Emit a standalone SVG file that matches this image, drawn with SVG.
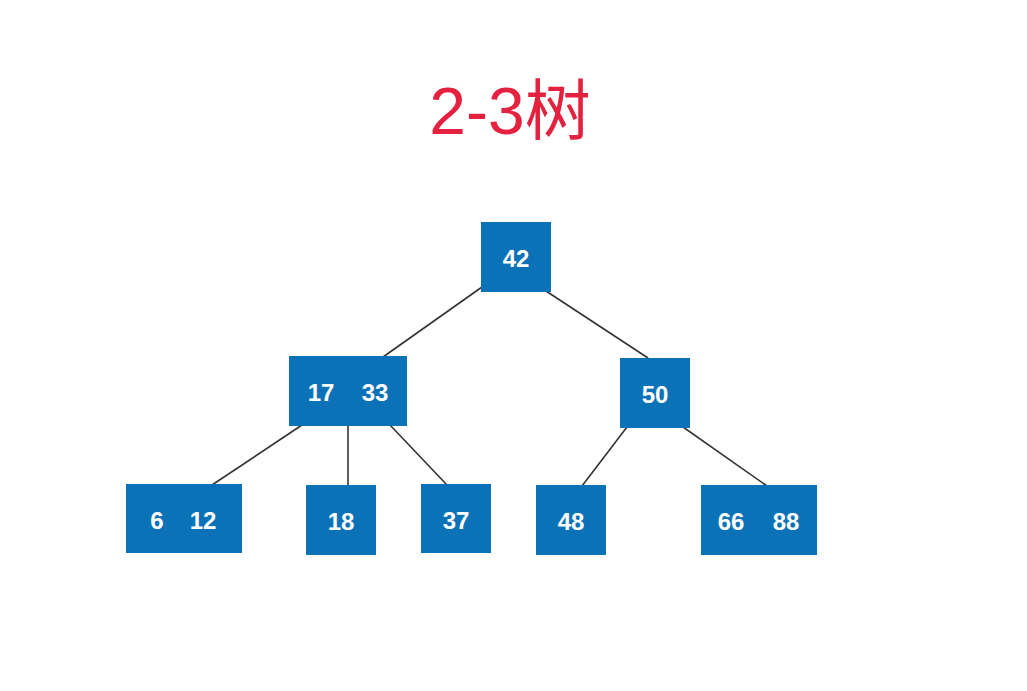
<svg xmlns="http://www.w3.org/2000/svg" width="1027" height="691" viewBox="0 0 1027 691">
  <style>
    .box { fill: #0b72b7; }
    .key { fill: #ffffff; font-family: "Liberation Sans", Arial, sans-serif; font-weight: bold; font-size: 24px; text-anchor: middle; }
    .edge { stroke: #333333; stroke-width: 1.6; fill: none; }
    .title { fill: #e4223f; font-family: "Liberation Sans", "Noto Sans CJK SC", sans-serif; font-size: 66px; text-anchor: middle; }
  </style>
  <rect width="1027" height="691" fill="#ffffff"/>

  <text class="title" x="510" y="134">2-3树</text>

  <!-- tree edges -->
  <g id="edges">
    <line class="edge" x1="482" y1="287" x2="383" y2="357"/>
    <line class="edge" x1="546" y1="291" x2="648" y2="358"/>
    <line class="edge" x1="302" y1="425" x2="212" y2="485"/>
    <line class="edge" x1="348" y1="425" x2="348" y2="486"/>
    <line class="edge" x1="390" y1="425" x2="447" y2="485"/>
    <line class="edge" x1="627" y1="427" x2="582" y2="486"/>
    <line class="edge" x1="683" y1="427" x2="767" y2="486"/>
  </g>

  <!-- root -->
  <g id="n42">
    <rect class="box" x="481" y="222" width="70" height="70"/>
    <text class="key" x="516" y="267">42</text>
  </g>

  <!-- middle level -->
  <g id="n17_33">
    <rect class="box" x="289" y="356" width="118" height="70"/>
    <text class="key" x="321" y="401">17</text>
    <text class="key" x="375" y="401">33</text>
  </g>
  <g id="n50">
    <rect class="box" x="620" y="358" width="70" height="70"/>
    <text class="key" x="655" y="403">50</text>
  </g>

  <!-- leaves -->
  <g id="n6_12">
    <rect class="box" x="126" y="484" width="116" height="69"/>
    <text class="key" x="157" y="529">6</text>
    <text class="key" x="203" y="529">12</text>
  </g>
  <g id="n18">
    <rect class="box" x="306" y="485" width="70" height="70"/>
    <text class="key" x="341" y="530">18</text>
  </g>
  <g id="n37">
    <rect class="box" x="421" y="484" width="70" height="69"/>
    <text class="key" x="456" y="529">37</text>
  </g>
  <g id="n48">
    <rect class="box" x="536" y="485" width="70" height="70"/>
    <text class="key" x="571" y="530">48</text>
  </g>
  <g id="n66_88">
    <rect class="box" x="701" y="485" width="116" height="70"/>
    <text class="key" x="731" y="530">66</text>
    <text class="key" x="786" y="530">88</text>
  </g>
</svg>
